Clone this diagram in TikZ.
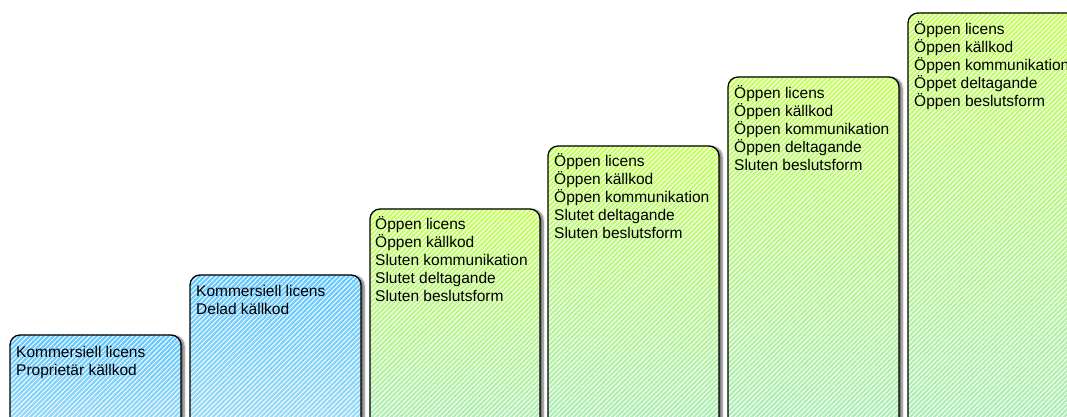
\documentclass[tikz,border=0pt]{standalone}
\usepackage{fontspec}
\setmainfont{Liberation Sans}
\usetikzlibrary{patterns.meta,shadows.blur}

\definecolor{stegblue}{RGB}{100,200,255}
\definecolor{stegbluelow}{RGB}{165,222,245}
\definecolor{steggreen}{RGB}{200,255,100}
\definecolor{steggreenlow}{RGB}{172,236,190}

\tikzset{
  trappa/.style={rounded corners=10pt,
    blur shadow={shadow xshift=3pt, shadow yshift=-1pt, shadow opacity=60, shadow blur steps=6},
    postaction={pattern={Lines[angle=45,distance=3.4pt,line width=0.9pt]}, pattern color=white, fill opacity=0.25},
    postaction={draw=black, line width=1.3pt}},
  blatrappa/.style={trappa, top color=stegblue, bottom color=stegbluelow},
  grontrappa/.style={trappa, top color=steggreen, bottom color=steggreenlow},
  trappatext/.style={anchor=base west, inner sep=0pt, align=left,
    font=\fontsize{15.5}{18.2}\selectfont}
}

\begin{document}
\begin{tikzpicture}[x=1pt,y=1pt]
    \useasboundingbox (0,0) rectangle (1067,416);
    \clip (0,0) rectangle (1067,416);

    % steg 1 och 2 (nodens bas = sista radens baslinje)
    \path[blatrappa] (10,-30) rectangle (181,81);
    \node[trappatext] (steg1) at (16,40.8) {Kommersiell licens\\Proprietär källkod};

    \path[blatrappa] (190,-30) rectangle (361,141);
    \node[trappatext] (steg2) at (196,101.8) {Kommersiell licens\\Delad källkod};

    % steg 3 till 6
    \path[grontrappa] (370,-30) rectangle (540,207);
    \node[trappatext] (steg3) at (375,114.2) {Öppen licens\\Öppen källkod\\Sluten kommunikation\\Slutet deltagande\\Sluten beslutsform};

    \path[grontrappa] (548,-30) rectangle (719,270);
    \node[trappatext] (steg4) at (554,177.2) {Öppen licens\\Öppen källkod\\Öppen kommunikation\\Slutet deltagande\\Sluten beslutsform};

    \path[grontrappa] (728,-30) rectangle (899,339);
    \node[trappatext] (steg5) at (734,245.2) {Öppen licens\\Öppen källkod\\Öppen kommunikation\\Öppen deltagande\\Sluten beslutsform};

    \path[grontrappa] (908,-30) rectangle (1079,403);
    \node[trappatext] (steg6) at (914,309.2) {Öppen licens\\Öppen källkod\\Öppen kommunikation\\Öppet deltagande\\Öppen beslutsform};
\end{tikzpicture}
\end{document}
